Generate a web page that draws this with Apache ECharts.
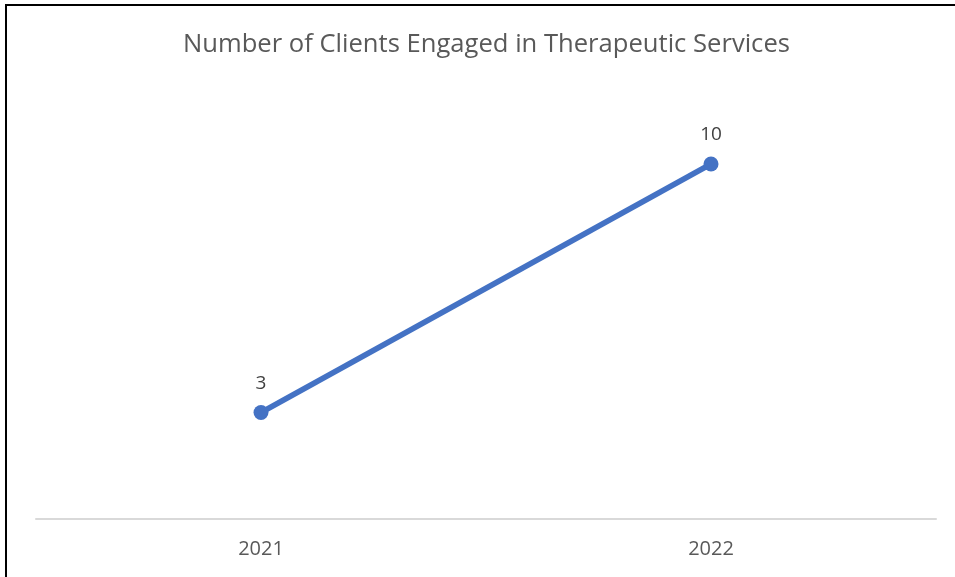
<!DOCTYPE html>
<html>
<head>
<meta charset="utf-8">
<script src="https://cdn.jsdelivr.net/npm/echarts@6/dist/echarts.min.js"></script>
<style>
  html, body { margin: 0; padding: 0; background: #fff; }
  #frame { position: absolute; left: 5px; top: 4px; width: 1000px; height: 700px; border-left: 2px solid #000; border-top: 2px solid #000; }
  #chart { position: absolute; left: 0; top: 0; width: 955px; height: 577px; }
</style>
</head>
<body>
<div id="frame"></div>
<div id="chart"></div>
<script>
const titleText = "Number of Clients Engaged in Therapeutic Services";
const categories = ["2021", "2022"];
const clients = [3, 10];
const yMin = 0;
const yMax = 12;

const chart = echarts.init(document.getElementById('chart'), null, { renderer: 'canvas' });
chart.setOption({
  backgroundColor: 'transparent',
  animation: false,
  title: {
    text: titleText,
    left: 178,
    top: 27,
    textStyle: { fontFamily: 'Open Sans', fontSize: 25.6, fontWeight: 'normal', color: '#595959' }
  },
  grid: { left: 36, right: 19, top: 93, bottom: 58 },
  xAxis: {
    type: 'category',
    data: categories,
    boundaryGap: true,
    axisLine: { show: true, lineStyle: { color: '#d9d9d9', width: 2 } },
    axisTick: { show: false },
    axisLabel: { fontFamily: 'Open Sans', fontSize: 20, color: '#595959', margin: 20 }
  },
  yAxis: {
    type: 'value',
    min: yMin,
    max: yMax,
    show: false,
    splitLine: { show: false }
  },
  series: [{
    type: 'line',
    data: clients,
    symbol: 'circle',
    symbolSize: 15,
    lineStyle: { color: '#4472C4', width: 5.5 },
    itemStyle: { color: '#4472C4' },
    label: {
      show: true,
      position: 'top',
      distance: 12,
      fontFamily: 'Open Sans',
      fontSize: 19,
      color: '#404040'
    }
  }]
});
</script>
</body>
</html>
